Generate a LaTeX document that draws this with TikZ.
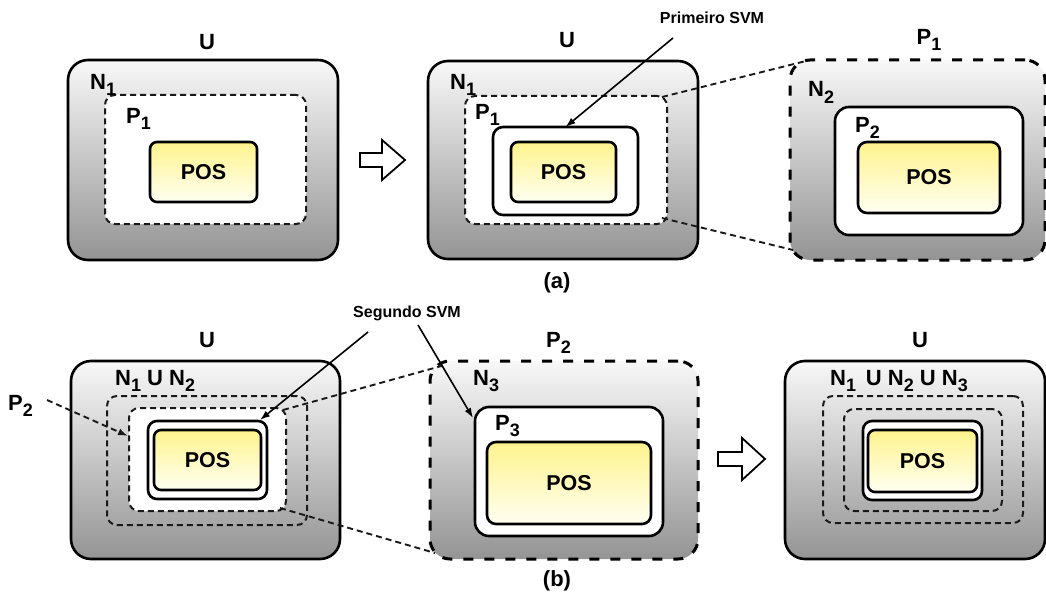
\documentclass[tikz,border=0pt]{standalone}
\usepackage{fontspec}
\setmainfont{Liberation Sans}
\usetikzlibrary{arrows.meta,calc}
\newcommand\sbs[1]{\raisebox{-6pt}{\fontsize{18}{18}\selectfont #1}}
\definecolor{posTop}{RGB}{255,243,140}
\definecolor{posBot}{RGB}{255,255,242}
\definecolor{gTop}{RGB}{248,248,248}
\definecolor{gBot}{RGB}{148,148,148}
\tikzset{
  box/.style={rectangle, inner sep=0pt, outer sep=0pt},
  outerbox/.style={box, draw, line width=2.6pt, rounded corners=20pt, top color=gTop, bottom color=gBot},
  thickdash/.style={box, draw, line width=3pt, dash pattern=on 10pt off 11pt, rounded corners=20pt, top color=gTop, bottom color=gBot},
  thindash/.style={box, draw=black!90, line width=2pt, dash pattern=on 6pt off 4pt, rounded corners=10pt},
  whitebox/.style={box, draw, line width=2.6pt, fill=white, rounded corners=10pt},
  posbox/.style={box, draw, line width=2.6pt, rounded corners=7pt, top color=posTop, bottom color=posBot, font=\fontsize{21.5}{21.5}\selectfont\bfseries},
  lbl/.style={inner sep=0pt, font=\fontsize{22}{22}\selectfont\bfseries},
  small/.style={inner sep=0pt, font=\fontsize{16}{16}\selectfont\bfseries},
  conn/.style={draw=black!90, line width=1.9pt, dash pattern=on 6pt off 4pt},
  arr/.style={draw, line width=1.6pt, -{Latex[length=10pt,width=7pt]}},
  darr/.style={conn, -{Latex[length=10pt,width=7pt]}},
  hollow/.style={draw, line width=1.8pt, fill=white, line join=miter}
}
\begin{document}
\begin{tikzpicture}[x=1pt,y=-1pt]
\useasboundingbox (0,0) rectangle (1046,599);
% ---------- Panel 1
\node[outerbox, minimum width=270pt, minimum height=200pt] (u1) at (203,160) {};
\node[thindash, fill=white, minimum width=201pt, minimum height=129pt] (p1a) at (205.5,159.5) {};
\node[posbox, minimum width=107pt, minimum height=60pt] (pos1) at (203.5,172) {POS};
\node[lbl] (lu1) at (207,42) {U};
\node[lbl, anchor=base west] (ln1) at (90,90) {N\sbs{1}};
\node[lbl, anchor=base west] (lp1) at (126,124) {P\sbs{1}};
% arrow 1
\path[hollow] (360,153) -- (382,153) -- (382,140) -- (405,160) -- (382,180) -- (382,167) -- (360,167) -- cycle;
% ---------- Panel 2
\node[outerbox, minimum width=270pt, minimum height=198pt] (u2) at (563,160) {};
\node[thindash, fill=white, minimum width=202pt, minimum height=128pt] (p1b) at (566,160) {};
\node[whitebox, minimum width=145pt, minimum height=88pt] (w2) at (565.5,171) {};
\node[posbox, minimum width=105pt, minimum height=60pt] (pos2) at (563.5,172) {POS};
\node[lbl] (lu2) at (567,40) {U};
\node[lbl, anchor=base west] (ln2) at (450,90) {N\sbs{1}};
\node[lbl, anchor=base west] (lp2) at (475,120) {P\sbs{1}};
\node[small] (sv1) at (712,18) {Primeiro SVM};
\coordinate (sv1s) at (673,38);
\draw[arr] (sv1s) -- (w2.north);
% ---------- Panel 3
\node[thickdash, minimum width=255pt, minimum height=200pt] (n2) at (917.5,160) {};
\node[whitebox, rounded corners=14pt, minimum width=188pt, minimum height=128pt] (w3) at (929,171) {};
\node[posbox, rounded corners=9pt, minimum width=142pt, minimum height=71pt] (pos3) at (929,177.5) {POS};
\node[lbl] (lp3t) at (929,40) {P\sbs{1}};
\node[lbl, anchor=base west] (ln3) at (808,97) {N\sbs{2}};
\node[lbl, anchor=base west] (lp3) at (855,132) {P\sbs{2}};
\coordinate (c1a) at (662,97);
\coordinate (c1b) at (806,61);
\coordinate (c2a) at (662,218);
\coordinate (c2b) at (793,250);
\draw[conn] (c1a) -- (c1b);
\draw[conn] (c2a) -- (c2b);
\node[lbl] (la) at (557,283) {(a)};
% ---------- Panel 4
\node[outerbox, minimum width=269pt, minimum height=198pt] (u4) at (205.5,460) {};
\node[thindash, minimum width=200pt, minimum height=129pt] (d4a) at (207,460.5) {};
\node[thindash, fill=white, minimum width=157pt, minimum height=103pt] (d4b) at (207.5,459.5) {};
\node[whitebox, rounded corners=9pt, minimum width=119pt, minimum height=78pt] (w4) at (207.5,460) {};
\node[posbox, minimum width=107pt, minimum height=60pt] (pos4) at (207.5,460) {POS};
\node[lbl] (lu4) at (207,340) {U};
\node[lbl, anchor=base west] (ln4) at (115,385) {N\sbs{1} U N\sbs{2}};
\node[lbl, anchor=base west] (lp4) at (8,410) {P\sbs{2}};
\coordinate (p2s) at (47,400);
\coordinate (p2e) at (128,436);
\draw[darr] (p2s) -- (p2e);
% ---------- Panel 5
\node[thickdash, minimum width=268pt, minimum height=198pt] (n3) at (564,460) {};
\node[whitebox, rounded corners=14pt, minimum width=188pt, minimum height=129pt] (w5) at (569,471.5) {};
\node[posbox, rounded corners=9pt, minimum width=164pt, minimum height=82pt] (pos5) at (569,483) {POS};
\node[lbl, anchor=base west] (lp5t) at (546,347) {P\sbs{2}};
\node[lbl, anchor=base west] (ln5) at (473,385) {N\sbs{3}};
\node[lbl, anchor=base west] (lp5) at (495,430) {P\sbs{3}};
\coordinate (c3a) at (283,410);
\coordinate (c3b) at (445,365);
\coordinate (c4a) at (280,508);
\coordinate (c4b) at (435,553);
\draw[conn] (c3a) -- (c3b);
\draw[conn] (c4a) -- (c4b);
\node[small] (sv2) at (407,313) {Segundo SVM};
\coordinate (sv2a) at (368,332);
\coordinate (sv2b) at (418,325);
\coordinate (w4e) at (260,420);
\coordinate (w5e) at (473,418);
\draw[arr] (sv2a) -- (w4e);
\draw[arr] (sv2b) -- (w5e);
% arrow 2
\path[hollow] (718,452) -- (742,452) -- (742,438) -- (765,459) -- (742,480) -- (742,466) -- (718,466) -- cycle;
% ---------- Panel 6
\node[outerbox, minimum width=260pt, minimum height=198pt] (u6) at (915,460) {};
\node[thindash, minimum width=200pt, minimum height=127pt] (d6a) at (923,459.5) {};
\node[thindash, minimum width=158pt, minimum height=102pt] (d6b) at (923,460) {};
\node[whitebox, rounded corners=9pt, minimum width=119pt, minimum height=79pt] (w6) at (922.5,460.5) {};
\node[posbox, minimum width=109pt, minimum height=62pt] (pos6) at (922.5,461) {POS};
\node[lbl] (lu6) at (920,340) {U};
\node[lbl, anchor=base west] (ln6) at (830,385) {N\sbs{1}\, U N\sbs{2} U N\sbs{3}};
\node[lbl] (lb) at (557,581) {(b)};
\end{tikzpicture}
\end{document}
